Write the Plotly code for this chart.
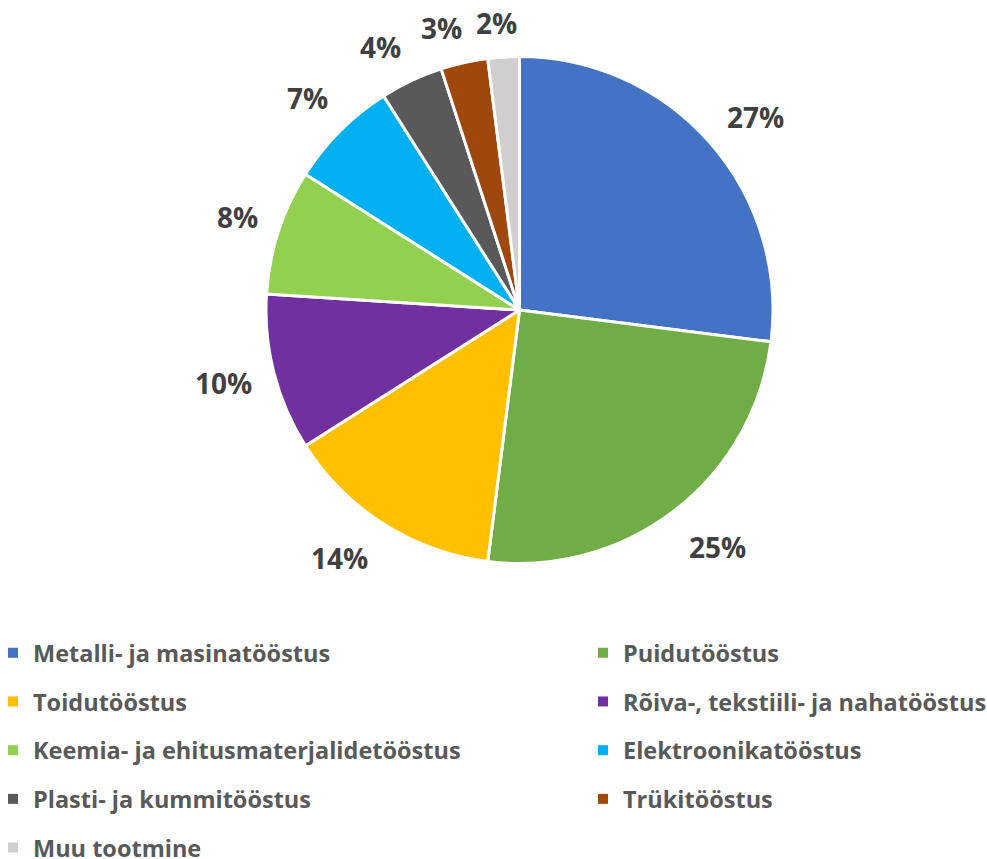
import numpy as np
import plotly.graph_objects as go

# Industry shares (%)
categories = [
    "Metalli- ja masinatööstus",
    "Puidutööstus",
    "Toidutööstus",
    "Rõiva-, tekstiili- ja nahatööstus",
    "Keemia- ja ehitusmaterjalidetööstus",
    "Elektroonikatööstus",
    "Plasti- ja kummitööstus",
    "Trükitööstus",
    "Muu tootmine",
]
shares = [27, 25, 14, 10, 8, 7, 4, 3, 2]
colors = ["#4472C4", "#70AD47", "#FFC000", "#7030A0", "#92D050",
          "#00B0F0", "#595959", "#9E480E", "#D0CECE"]

# Small placement tweaks for the outside labels (degrees / px)
label_nudge_deg = [2.2, -2.0, 3.6, 0.6, 0.3, 0.0, -2.6, -2.8, -0.9]
label_nudge_px = [-1, 5, 4, -2, -2, 1, 1, -1, -2]

W, H = 987, 859
CX, CY, R = 519.5, 310, 253.5          # pie centre and radius in px
FONT = "Open Sans"
LABEL_FONT = 28
LEGEND_FONT = 23.5
ROW_PITCH = 48.7

fig = go.Figure()
fig.add_trace(go.Pie(
    labels=categories,
    values=shares,
    sort=False,
    direction="clockwise",
    rotation=0,
    marker=dict(colors=colors, line=dict(color="white", width=3)),
    textinfo="none",
    hoverinfo="label+percent",
    showlegend=False,
    domain=dict(x=[(CX - R) / W, (CX + R) / W],
                y=[(H - CY - R) / H, (H - CY + R) / H]),
))

# Legend keys: two columns, filled row by row
for i, (name, col) in enumerate(zip(categories, colors)):
    fig.add_trace(go.Scatter(
        x=[None], y=[None], mode="markers", name=name,
        marker=dict(symbol="square", size=10, color=col),
        legend="legend" if i % 2 == 0 else "legend2",
        legendgroup=f"g{i}", showlegend=True, hoverinfo="skip",
    ))

# Percentage labels just outside each slice
vals = np.array(shares, dtype=float)
frac = vals / vals.sum()
mid = (np.cumsum(frac) - frac / 2) * 2 * np.pi
gap = 23
annotations = []
for v, a, da, dr in zip(shares, mid, label_nudge_deg, label_nudge_px):
    txt = f"{v}%"
    w = 0.58 * LABEL_FONT * (len(txt) - 1) + 0.85 * LABEL_FONT
    h = 0.85 * LABEL_FONT
    a = a + np.radians(da)
    ux, uy = np.sin(a), -np.cos(a)
    ext = abs(ux) * w / 2 + abs(uy) * h / 2
    d = R + gap + ext + dr
    px, py = CX + ux * d, CY + uy * d
    annotations.append(dict(
        x=px / W, y=1 - py / H, xref="paper", yref="paper",
        text=txt, showarrow=False, xanchor="center", yanchor="middle",
        font=dict(family=FONT, size=LABEL_FONT, color="#404040", weight="bold"),
    ))

item_h = 1.3 * LEGEND_FONT + 3
legend_common = dict(
    orientation="v",
    xanchor="left",
    yanchor="top",
    y=1 - 631 / H,
    tracegroupgap=ROW_PITCH - item_h,
    font=dict(family=FONT, size=LEGEND_FONT, color="#595959", weight="bold"),
    bgcolor="rgba(0,0,0,0)",
    borderwidth=0,
)

fig.update_layout(
    width=W, height=H,
    margin=dict(l=0, r=0, t=0, b=0, autoexpand=False),
    paper_bgcolor="white",
    plot_bgcolor="white",
    xaxis=dict(visible=False),
    yaxis=dict(visible=False),
    annotations=annotations,
    showlegend=True,
    legend=dict(x=-7 / W, **legend_common),
    legend2=dict(x=583 / W, **legend_common),
)

fig.write_html("out.html")
